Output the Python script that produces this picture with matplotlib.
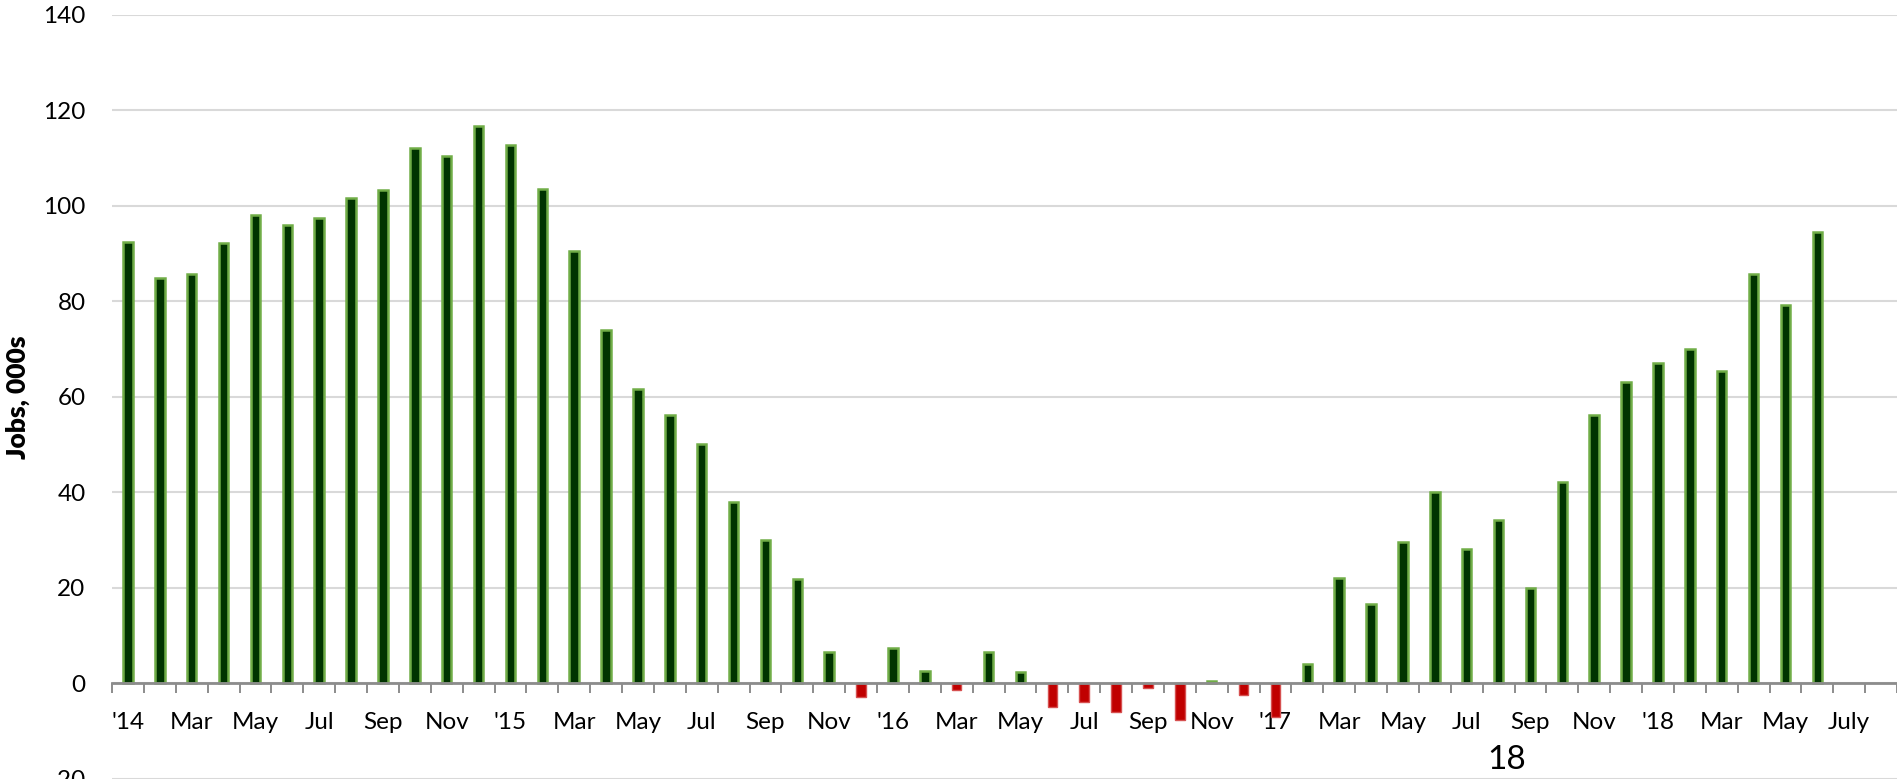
import numpy as np
import matplotlib
matplotlib.use("Agg")
import matplotlib.pyplot as plt
from matplotlib.ticker import FixedLocator

plt.rcParams['font.family'] = ['Lato', 'DejaVu Sans']
plt.rcParams['axes.unicode_minus'] = False

# months Jan 2014 .. Aug 2018 (56 slots), bars up to Jun 2018
meses = []
for ano in range(2014, 2019):
    for m in ["Jan", "Feb", "Mar", "Apr", "May", "Jun", "Jul", "Aug", "Sep", "Oct", "Nov", "Dec"]:
        meses.append(f"{m} {ano}")
meses = meses[:56]

empregos = [
    92.5, 84.8, 85.6, 92.2, 98.0, 96.0, 97.4, 101.7, 103.3, 112.1, 110.5, 116.8,
    112.8, 103.6, 90.5, 73.9, 61.6, 56.1, 50.0, 37.9, 30.1, 21.8, 6.5, -2.8,
    7.3, 2.65, -1.5, 6.5, 2.3, -4.9, -4.0, -6.1, -0.9, -7.6, 0.56, -2.5,
    -7.1, 4.1, 22.0, 16.5, 29.6, 40.1, 28.1, 34.2, 19.9, 42.1, 56.1, 63.0,
    67.1, 70.1, 65.4, 85.8, 79.2, 94.6,
]

rotulos = ["'14", "Mar", "May", "Jul", "Sep", "Nov",
           "'15", "Mar", "May", "Jul", "Sep", "Nov",
           "'16", "Mar", "May", "Jul", "Sep", "Nov",
           "'17", "Mar", "May", "Jul", "Sep", "Nov",
           "'18", "Mar", "May", "July"]

fig = plt.figure(figsize=(18.97, 7.79), dpi=100)
ax = fig.add_axes([112 / 1897, 0.0003, 1 - 112 / 1897, 0.9808])

x = np.arange(len(empregos))
vals = np.array(empregos)
pos = vals >= 0
ax.bar(x[pos], vals[pos], width=0.3, color="#003300", edgecolor="#70AD47",
       linewidth=1.8, zorder=3)
ax.bar(x[~pos], vals[~pos], width=0.3, color="#C00000", edgecolor="#D65050",
       linewidth=1.0, zorder=3)

ax.set_xlim(-0.5, len(meses) - 0.5)
ax.set_ylim(-20, 140)
ax.set_yticks(range(-20, 141, 20))
ax.yaxis.grid(True, color="#D9D9D9", linewidth=1.5, zorder=0)
ax.set_axisbelow(True)

for s in ["top", "right", "left"]:
    ax.spines[s].set_visible(False)
ax.spines["bottom"].set_position(("data", 0))
ax.spines["bottom"].set_color("#8C8C8C")
ax.spines["bottom"].set_linewidth(2)
ax.spines["bottom"].set_zorder(4)

ax.set_xticks(range(0, 2 * len(rotulos), 2))
ax.set_xticklabels(rotulos)
ax.xaxis.set_minor_locator(FixedLocator(np.arange(-0.5, len(meses), 1.0)))
ax.tick_params(axis="x", which="major", length=0, pad=21, labelsize=17.5)
ax.tick_params(axis="x", which="minor", length=7, width=1.4, color="#8C8C8C",
               direction="out")
ax.tick_params(axis="y", length=0, pad=19, labelsize=17.5)

fig.text(18 / 1897, 1 - 397 / 779, "Jobs, 000s", rotation=90, ha="center",
         va="center", fontsize=19, fontweight="heavy")
fig.text(1507 / 1897, 1 - 760 / 779, "18", ha="center", va="center",
         fontsize=24)

fig.savefig("out.png", dpi=100)
